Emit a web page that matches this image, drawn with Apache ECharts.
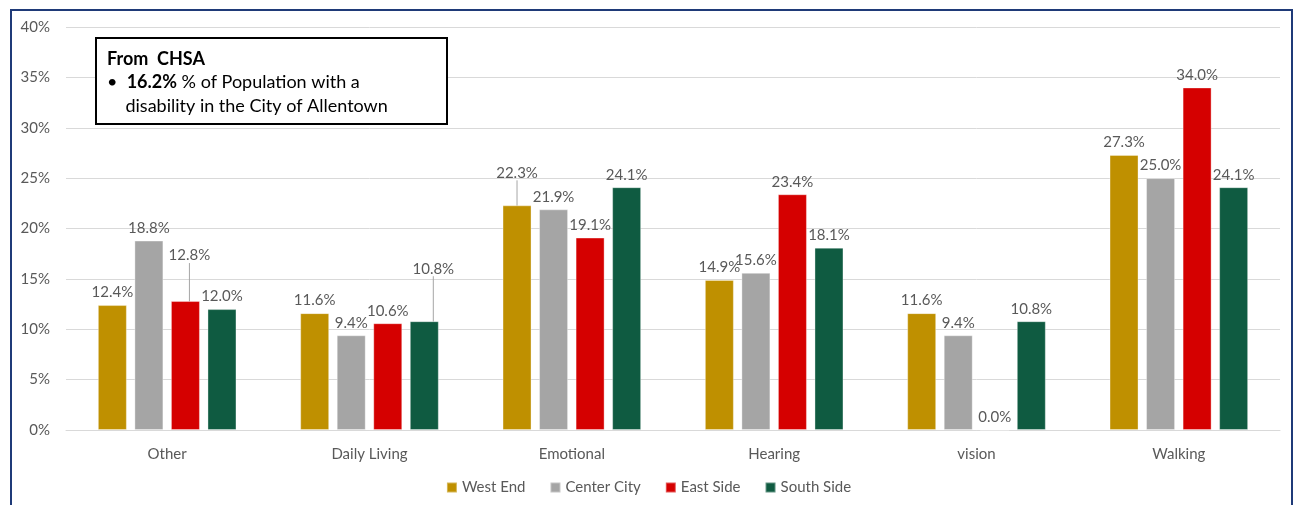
<!DOCTYPE html>
<html>
<head>
<meta charset="utf-8">
<script src="https://cdn.jsdelivr.net/npm/echarts@6/dist/echarts.min.js"></script>
<style>
html,body{margin:0;padding:0;background:#fff;}
#chart{width:1297px;height:505px;}
</style>
</head>
<body>
<div id="chart"></div>
<script>
const categories = ['Other', 'Daily Living', 'Emotional', 'Hearing', 'vision', 'Walking'];
const westEnd    = [12.4, 11.6, 22.3, 14.9, 11.6, 27.3];
const centerCity = [18.8, 9.4, 21.9, 15.6, 9.4, 25.0];
const eastSide   = [12.8, 10.6, 19.1, 23.4, 0.0, 34.0];
const southSide  = [12.0, 10.8, 24.1, 18.1, 10.8, 24.1];
const seriesNames = ['West End', 'Center City', 'East Side', 'South Side'];
const seriesColors = ['#BF9000', '#A5A5A5', '#D50000', '#0F5B41'];
const yTicks = [0, 5, 10, 15, 20, 25, 30, 35, 40];

// label offsets (style only): key "series-index"
const movedLabels = {
  '2-0': {dx: 4, dy: -33},
  '3-1': {dx: 9, dy: -40},
  '0-2': {dx: 0, dy: -20}
};

const FONT = 'Lato, "Open Sans", sans-serif';
const allValues = [westEnd, centerCity, eastSide, southSide];

const series = allValues.map((vals, si) => ({
  name: seriesNames[si],
  type: 'bar',
  barWidth: 29,
  barGap: '26%',
  itemStyle: {color: seriesColors[si], borderColor: 'rgba(255,255,255,0.35)', borderWidth: 1},
  label: {
    show: true,
    position: 'top',
    distance: 5,
    color: '#595959',
    fontFamily: FONT,
    fontSize: 15,
    formatter: p => p.value.toFixed(1) + '%'
  },
  labelLine: {show: false, lineStyle: {color: '#A6A6A6', width: 1}},
  labelLayout: function (p) {
    const m = movedLabels[si + '-' + p.dataIndex];
    return m ? {dx: m.dx, dy: m.dy} : {};
  },
  data: vals.map((v, di) => movedLabels[si + '-' + di]
    ? {value: v, labelLine: {show: true, lineStyle: {color: '#A6A6A6', width: 1}}}
    : v)
}));

const chart = echarts.init(document.getElementById('chart'), null, {renderer: 'canvas'});
chart.setOption({
  animation: false,
  backgroundColor: '#fff',
  grid: {left: 66, right: 17, top: 27, bottom: 75},
  legend: {
    data: seriesNames,
    bottom: 5,
    left: 'center',
    icon: 'rect',
    itemWidth: 10,
    itemHeight: 10,
    itemGap: 24,
    textStyle: {color: '#595959', fontFamily: FONT, fontSize: 15}
  },
  xAxis: {
    type: 'category',
    data: categories,
    axisTick: {show: false},
    axisLine: {lineStyle: {color: '#D9D9D9'}},
    axisLabel: {color: '#595959', fontFamily: FONT, fontSize: 15, margin: 17}
  },
  yAxis: {
    type: 'value',
    min: yTicks[0],
    max: yTicks[yTicks.length - 1],
    interval: 5,
    axisLine: {show: false},
    axisTick: {show: false},
    splitLine: {lineStyle: {color: '#D9D9D9'}},
    axisLabel: {color: '#595959', fontFamily: FONT, fontSize: 15, margin: 16, formatter: v => v + '%'}
  },
  series: series,
  graphic: [
    {
      type: 'rect',
      shape: {x: 11, y: 10, width: 1281, height: 505},
      style: {fill: 'none', stroke: '#1F3A78', lineWidth: 2},
      silent: true, z: 100
    },
    {
      type: 'rect',
      shape: {x: 96, y: 38, width: 351, height: 86},
      style: {fill: '#fff', stroke: '#000', lineWidth: 2},
      z: 100
    },
    {
      type: 'text',
      x: 107, y: 47, z: 101,
      style: {
        text: '{b|From  CHSA}\n{n|•  }{b|16.2%}{n| % of Population with a}\n{n|    disability in the City of Allentown}',
        fontFamily: FONT,
        fill: '#000',
        rich: {
          b: {fontWeight: 'bold', fontSize: 18, fontFamily: FONT, lineHeight: 23.5, fill: '#000'},
          n: {fontSize: 18, fontFamily: FONT, lineHeight: 23.5, fill: '#000'}
        }
      }
    }
  ]
});
</script>
</body>
</html>
